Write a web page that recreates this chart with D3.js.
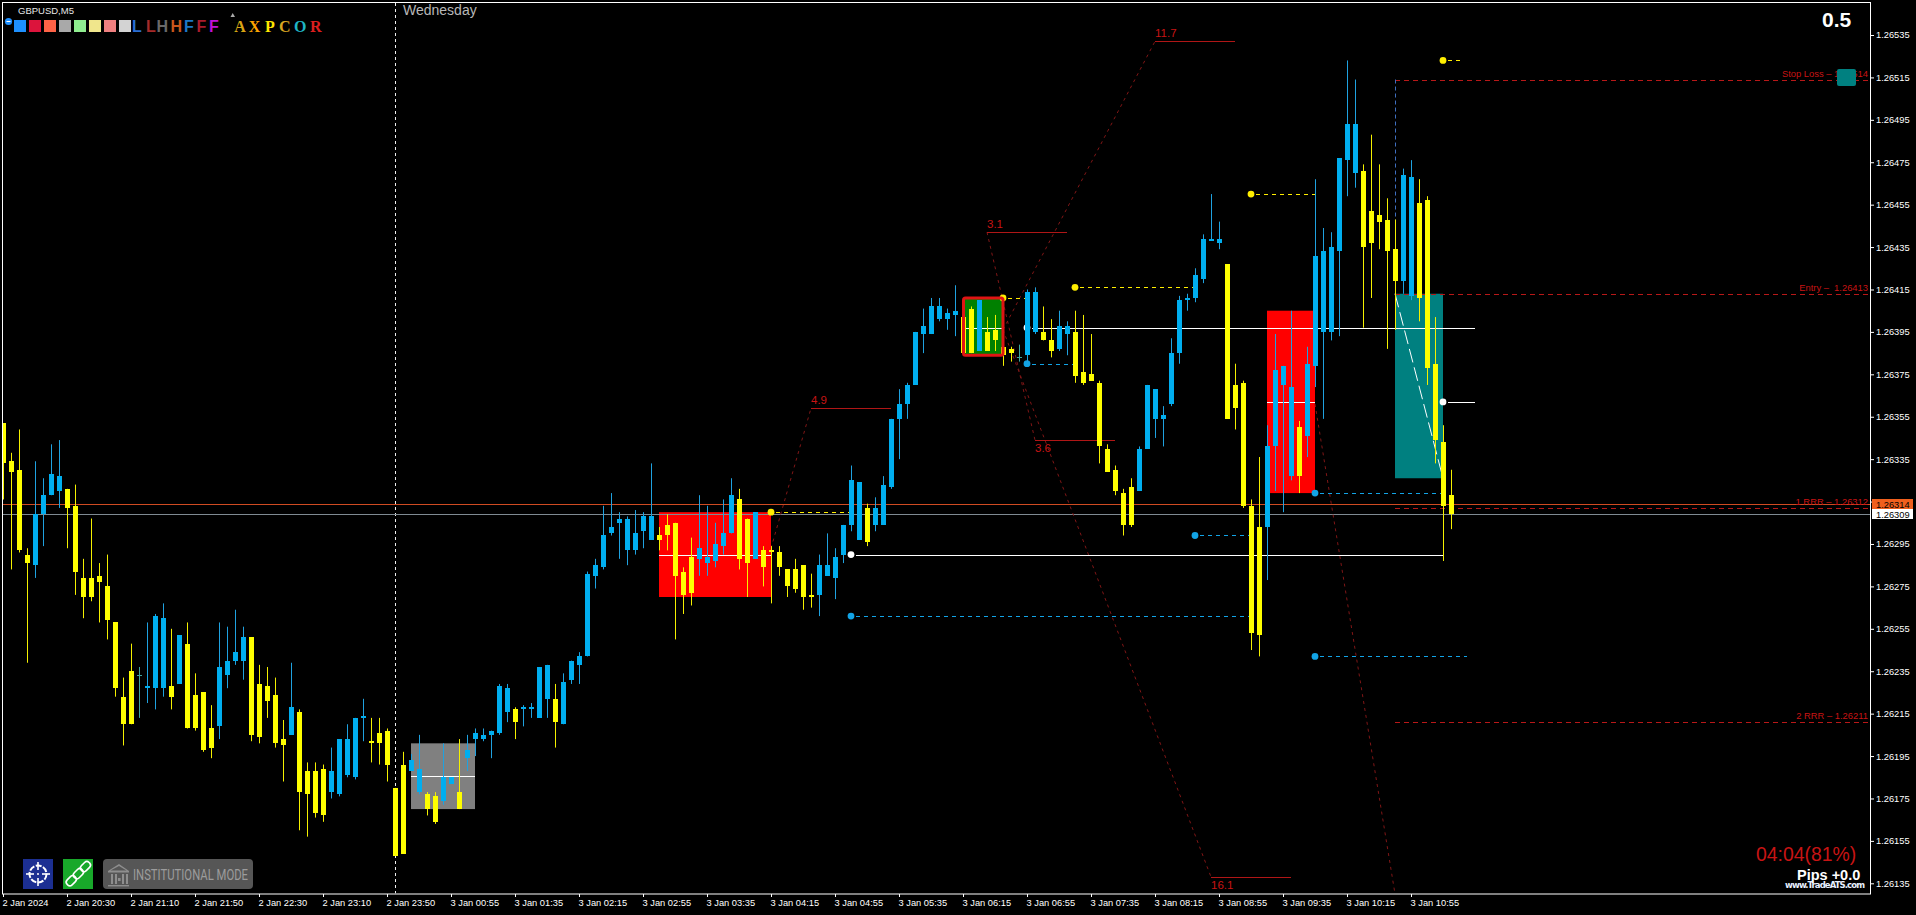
<!DOCTYPE html>
<html><head><meta charset="utf-8">
<script src="https://cdn.jsdelivr.net/npm/d3@7/dist/d3.min.js"></script>
<style>
html,body{margin:0;padding:0;background:#000;overflow:hidden}
svg{display:block}
text{font-family:"Liberation Sans",Arial,sans-serif}
</style></head><body>
<svg id="c" width="1916" height="915"></svg>
<script>
const opens=[1.26352,1.26334,1.26330,1.26290,1.26285,1.26309,1.26318,1.26320,1.26321,1.26313,
1.26279,1.26279,1.26280,1.26275,1.26258,1.26223,1.26235,1.26233,1.26227,1.26227,
1.26227,1.26228,1.26229,1.26248,1.26224,1.26225,1.26208,1.26209,1.26233,1.26240,
1.26240,1.26251,1.26229,1.26228,1.26224,1.26203,1.26205,1.26216,1.26188,1.26188,
1.26189,1.26178,1.26177,1.26186,1.26185,1.26213,1.26202,1.26206,1.26207,1.26180,
1.26191,1.26188,1.26178,1.26177,1.26176,1.26174,1.26182,1.26178,1.26194,1.26203,
1.26203,1.26205,1.26206,1.26216,1.26217,1.26217,1.26217,1.26213,1.26222,1.26222,
1.26210,1.26231,1.26238,1.26242,1.26280,1.26284,1.26300,1.26305,1.26292,1.26292,
1.26301,1.26297,1.26299,1.26304,1.26305,1.26282,1.26289,1.26288,1.26286,1.26287,
1.26294,1.26300,1.26316,1.26307,1.26288,1.26292,1.26292,1.26291,1.26283,1.26283,
1.26285,1.26271,1.26271,1.26280,1.26279,1.26290,1.26304,1.26297,1.26312,1.26304,
1.26304,1.26322,1.26354,1.26361,1.26370,1.26394,1.26394,1.26401,1.26401,1.26403,
1.26402,1.26406,1.26386,1.26395,1.26396,1.26388,1.26387,1.26383,1.26384,1.26395,
1.26395,1.26391,1.26387,1.26394,1.26395,1.26376,1.26375,1.26371,1.26340,1.26330,
1.26319,1.26322,1.26320,1.26340,1.26354,1.26354,1.26361,1.26385,1.26410,1.26411,
1.26420,1.26438,1.26437,1.26427,1.26370,1.26371,1.26313,1.26303,1.26303,1.26341,
1.26370,1.26327,1.26350,1.26346,1.26379,1.26395,1.26395,1.26433,1.26476,1.26470,
1.26471,1.26452,1.26450,1.26448,1.26434,1.26419,1.26412,1.26456,1.26457,1.26380,
1.26343,1.26318];
const highs=[1.26352,1.26338,1.26349,1.26293,1.26334,1.26326,1.26342,1.26344,1.26321,1.26323,
1.26288,1.26307,1.26286,1.26290,1.26258,1.26232,1.26248,1.26237,1.26258,1.26262,
1.26267,1.26255,1.26252,1.26258,1.26234,1.26225,1.26219,1.26258,1.26256,1.26264,
1.26256,1.26251,1.26238,1.26237,1.26232,1.26212,1.26239,1.26217,1.26192,1.26192,
1.26191,1.26199,1.26203,1.26210,1.26213,1.26222,1.26213,1.26213,1.26208,1.26180,
1.26197,1.26196,1.26205,1.26178,1.26178,1.26201,1.26185,1.26203,1.26205,1.26208,
1.26208,1.26207,1.26229,1.26229,1.26218,1.26219,1.26220,1.26237,1.26238,1.26229,
1.26234,1.26240,1.26244,1.26282,1.26288,1.26313,1.26319,1.26310,1.26308,1.26311,
1.26310,1.26333,1.26303,1.26309,1.26305,1.26284,1.26298,1.26318,1.26313,1.26305,
1.26316,1.26326,1.26321,1.26307,1.26310,1.26294,1.26294,1.26294,1.26283,1.26288,
1.26285,1.26281,1.26290,1.26300,1.26293,1.26304,1.26332,1.26324,1.26314,1.26317,
1.26327,1.26354,1.26368,1.26371,1.26395,1.26406,1.26411,1.26411,1.26406,1.26417,
1.26402,1.26407,1.26410,1.26402,1.26403,1.26389,1.26388,1.26389,1.26415,1.26416,
1.26407,1.26401,1.26405,1.26400,1.26405,1.26403,1.26394,1.26372,1.26342,1.26332,
1.26321,1.26326,1.26341,1.26370,1.26368,1.26360,1.26392,1.26412,1.26413,1.26425,
1.26441,1.26460,1.26447,1.26427,1.26380,1.26372,1.26316,1.26336,1.26351,1.26394,
1.26379,1.26405,1.26353,1.26388,1.26467,1.26444,1.26442,1.26477,1.26523,1.26514,
1.26474,1.26488,1.26474,1.26458,1.26448,1.26472,1.26476,1.26467,1.26459,1.26402,
1.26351,1.26330];
const lows=[1.26316,1.26283,1.26291,1.26239,1.26279,1.26294,1.26318,1.26312,1.26293,1.26271,
1.26260,1.26268,1.26258,1.26250,1.26223,1.26200,1.26210,1.26213,1.26220,1.26217,
1.26223,1.26217,1.26229,1.26208,1.26207,1.26197,1.26194,1.26203,1.26227,1.26238,
1.26231,1.26202,1.26201,1.26213,1.26199,1.26183,1.26205,1.26160,1.26157,1.26166,
1.26164,1.26175,1.26176,1.26185,1.26184,1.26202,1.26192,1.26191,1.26183,1.26148,
1.26149,1.26188,1.26177,1.26167,1.26163,1.26172,1.26182,1.26170,1.26188,1.26195,
1.26202,1.26194,1.26205,1.26211,1.26203,1.26209,1.26213,1.26213,1.26213,1.26199,
1.26210,1.26229,1.26229,1.26242,1.26274,1.26283,1.26299,1.26288,1.26285,1.26290,
1.26293,1.26297,1.26292,1.26292,1.26250,1.26262,1.26266,1.26280,1.26280,1.26284,
1.26290,1.26300,1.26283,1.26270,1.26288,1.26275,1.26267,1.26280,1.26270,1.26272,
1.26264,1.26265,1.26261,1.26280,1.26269,1.26286,1.26301,1.26297,1.26294,1.26301,
1.26304,1.26321,1.26335,1.26354,1.26370,1.26385,1.26394,1.26400,1.26396,1.26393,
1.26385,1.26385,1.26386,1.26386,1.26386,1.26379,1.26381,1.26381,1.26380,1.26394,
1.26391,1.26383,1.26386,1.26384,1.26371,1.26370,1.26372,1.26333,1.26329,1.26318,
1.26299,1.26303,1.26320,1.26340,1.26345,1.26341,1.26360,1.26380,1.26405,1.26409,
1.26418,1.26438,1.26434,1.26354,1.26349,1.26312,1.26245,1.26242,1.26278,1.26320,
1.26310,1.26325,1.26319,1.26336,1.26369,1.26354,1.26391,1.26393,1.26459,1.26463,
1.26397,1.26411,1.26434,1.26387,1.26396,1.26413,1.26410,1.26400,1.26370,1.26333,
1.26287,1.26302];
const closes=[1.26333,1.26329,1.26292,1.26286,1.26309,1.26318,1.26328,1.26327,1.26312,1.26282,
1.26270,1.26270,1.26277,1.26259,1.26227,1.26210,1.26210,1.26233,1.26228,1.26261,
1.26260,1.26223,1.26252,1.26208,1.26208,1.26198,1.26199,1.26237,1.26240,1.26244,
1.26251,1.26205,1.26204,1.26221,1.26201,1.26200,1.26218,1.26178,1.26177,1.26168,
1.26167,1.26188,1.26203,1.26203,1.26213,1.26214,1.26201,1.26201,1.26191,1.26148,
1.26149,1.26193,1.26189,1.26170,1.26164,1.26185,1.26185,1.26170,1.26198,1.26206,
1.26205,1.26207,1.26228,1.26227,1.26211,1.26218,1.26218,1.26237,1.26238,1.26211,
1.26230,1.26240,1.26242,1.26281,1.26285,1.26299,1.26303,1.26307,1.26307,1.26300,
1.26308,1.26308,1.26297,1.26299,1.26280,1.26271,1.26272,1.26293,1.26289,1.26295,
1.26300,1.26318,1.26288,1.26286,1.26310,1.26284,1.26291,1.26284,1.26275,1.26274,
1.26270,1.26270,1.26285,1.26285,1.26289,1.26304,1.26325,1.26324,1.26296,1.26312,
1.26323,1.26354,1.26361,1.26370,1.26395,1.26398,1.26407,1.26407,1.26404,1.26405,
1.26385,1.26385,1.26410,1.26386,1.26391,1.26384,1.26385,1.26383,1.26414,1.26414,
1.26391,1.26386,1.26398,1.26398,1.26374,1.26371,1.26372,1.26341,1.26329,1.26320,
1.26304,1.26304,1.26340,1.26370,1.26368,1.26356,1.26385,1.26410,1.26411,1.26422,
1.26439,1.26439,1.26439,1.26354,1.26359,1.26313,1.26253,1.26252,1.26341,1.26377,
1.26379,1.26369,1.26327,1.26380,1.26431,1.26433,1.26435,1.26477,1.26493,1.26493,
1.26435,1.26437,1.26447,1.26433,1.26419,1.26469,1.26468,1.26411,1.26378,1.26344,
1.26313,1.26309];

const priceTicks=[1.26535,1.26515,1.26495,1.26475,1.26455,1.26435,1.26415,1.26395,1.26375,1.26355,1.26335,1.26315,1.26295,1.26275,1.26255,1.26235,1.26215,1.26195,1.26175,1.26155,1.26135];
const timeTickIndex=[0,8,16,24,32,40,48,56,64,72,80,88,96,104,112,120,128,136,144,152,160,168,176];
const timeLabels=["2 Jan 2024","2 Jan 20:30","2 Jan 21:10","2 Jan 21:50","2 Jan 22:30","2 Jan 23:10","2 Jan 23:50","3 Jan 00:55","3 Jan 01:35","3 Jan 02:15","3 Jan 02:55","3 Jan 03:35","3 Jan 04:15","3 Jan 04:55","3 Jan 05:35","3 Jan 06:15","3 Jan 06:55","3 Jan 07:35","3 Jan 08:15","3 Jan 08:55","3 Jan 09:35","3 Jan 10:15","3 Jan 10:55"];

const askPrice=1.26314, bidPrice=1.26309;
const dayBreakIndex=49;

// zones: [from candle, to candle, top price, bottom price, mid price]
const grayZone=[51,59,1.26201,1.26170,1.261855];
const redZones=[[82,96,1.26310,1.26270,1.26290],[158,164,1.26405,1.26319,1.26362]];
const greenZone=[120,125,1.26411,1.26384,1.26397];
const tradeZone=[174,180,1.26413,1.26326];

// trade levels: label, price
const tradeLevelNames=["Stop Loss \u2013 1.26514","Entry \u2013  1.26413","1 RRR \u2013 1.26312","2 RRR \u2013 1.26211"];
const tradeLevelPrices=[1.26514,1.26413,1.26312,1.26211];

// zigzag segments: [from candle, from price, to candle, to price]
const zigzag=[[96,1.26293,101,1.26359],[123,1.26442,129,1.26344],[125,1.26396,151,1.26138],[125,1.26396,144,1.26532],[164,1.26361,174,1.26130]];
// swing labels: text, from candle, to candle, price
const swingText=["4.9","3.1","3.6","11.7","16.1"];
const swingFrom=[101,123,129,144,151];
const swingTo=[111,133,139,154,161];
const swingPrice=[1.26359,1.26442,1.26344,1.26532,1.26138];
const swingBelow=[false,false,true,false,true];

// pivot levels: [from candle, to candle, price]
const yellowLevels=[[96,106,1.26310],[125,128,1.26411],[134,149,1.26416],[156,164,1.26460],[180,182.6,1.26523]];
const whiteLevels=[[128,184,1.26397],[106,180,1.26290],[180,184,1.26362]];
const blueLevels=[[128,134,1.26380],[149,156,1.26299],[164,180,1.26319],[164,183,1.26242],[106,156,1.26261]];

const swatches=["#1e90ff","#dc143c","#ff6347","#a9a9a9","#90ee90","#f0e68c","#f08080","#d3d3d3"];
const letterText=["L","L","H","H","F","F","F"];
const letterX=[132,146,156.5,170.5,184,196.5,209];
const letterCol=["#2a6fd4","#a52a2a","#696969","#c8561c","#1e78c8","#a81c2c","#c012d8"];
const pairText=["A","X","P","C","O","R"];
const pairX=[234.3,248.7,265,279,294,310];
const pairCol=["#d9a514","#ffa500","#ffe600","#d8a520","#1fb4c4","#dc1e1e"];

const BLUE="#00aeef",YEL="#ffff00",DOJI="#3fa7a0",RED="#b01616",RED2="#c81414";
const plotRight=1870, plotBottom=893.5;

const svg=d3.select("#c");
const x=d3.scaleLinear().domain([0,181]).range([3,1451]);
const y=d3.scaleLinear().domain([1.26135,1.26535]).range([883.3,35]);

svg.append("defs").append("clipPath").attr("id","plot").append("rect")
  .attr("x",3).attr("y",3).attr("width",plotRight-3).attr("height",plotBottom-3);
const g=svg.append("g").attr("clip-path","url(#plot)");

function hline(p,x0,x1,col,dash){
  const l=g.append("line").attr("x1",x0).attr("x2",x1).attr("y1",Math.round(y(p))+.5).attr("y2",Math.round(y(p))+.5)
    .attr("stroke",col).attr("stroke-width",1);
  if(dash)l.attr("stroke-dasharray",dash);
  return l;
}
// day break
g.append("line").attr("x1",x(dayBreakIndex)+.5).attr("x2",x(dayBreakIndex)+.5).attr("y1",3).attr("y2",plotBottom)
  .attr("stroke","#f0f0f0").attr("stroke-dasharray","3,3");

function zone(z,fill){
  g.append("rect").attr("x",x(z[0])).attr("width",x(z[1])-x(z[0])).attr("y",y(z[2])).attr("height",y(z[3])-y(z[2])).attr("fill",fill);
}
zone(grayZone,"#808080");
redZones.forEach(z=>zone(z,"#ff0000"));
zone(greenZone,"#008000");
zone(tradeZone,"#008080");

hline(askPrice,3,plotRight,"#cf4b22");
hline(bidPrice,3,plotRight,"#7f8a92");

[grayZone,...redZones,greenZone].forEach(z=>hline(z[4],x(z[0]),x(z[1]),"#ffffff"));

// trade levels
tradeLevelPrices.forEach(p=>hline(p,x(tradeZone[0]),plotRight-2,"#b81818","5,4"));
g.append("line").attr("x1",x(tradeZone[0])+.5).attr("x2",x(tradeZone[0])+.5).attr("y1",y(tradeLevelPrices[0])).attr("y2",y(tradeLevelPrices[1]))
  .attr("stroke","#3f6fc0").attr("stroke-dasharray","4,3");
g.append("line").attr("x1",x(tradeZone[0])).attr("y1",y(tradeZone[2])).attr("x2",x(tradeZone[1])).attr("y2",y(tradeZone[3]))
  .attr("stroke","#ffffff").attr("stroke-dasharray","14,5");

// zigzag
zigzag.forEach(s=>g.append("line").attr("x1",x(s[0])).attr("y1",y(s[1])).attr("x2",x(s[2])).attr("y2",y(s[3]))
  .attr("stroke","#801616").attr("stroke-dasharray","3,4").attr("stroke-width",1));
swingText.forEach((t,i)=>{
  hline(swingPrice[i],x(swingFrom[i]),x(swingTo[i]),RED);
  g.append("text").text(t).attr("x",x(swingFrom[i])).attr("y",y(swingPrice[i])+(swingBelow[i]?12:-4))
    .attr("fill",RED2).attr("font-size",11.5);
});

// pivots
function pivots(list,col,dash){
  list.forEach(l=>{
    hline(l[2],x(l[0])+5,x(l[1]),col,dash);
    g.append("circle").attr("cx",x(l[0])).attr("cy",y(l[2])).attr("r",3.4).attr("fill",col);
  });
}
pivots(yellowLevels,"#ffee00","4,4");
pivots(blueLevels,"#12a4e6","4,4");
pivots(whiteLevels,"#ffffff",null);

// candles
const idx=d3.range(opens.length);
const col=i=>closes[i]===opens[i]?DOJI:(closes[i]>opens[i]?BLUE:YEL);
g.append("g").selectAll("rect").data(idx).join("rect")
  .attr("x",i=>x(i)).attr("width",1).attr("y",i=>y(highs[i])).attr("height",i=>y(lows[i])-y(highs[i]))
  .attr("fill",i=>closes[i]===opens[i]?DOJI:(closes[i]>opens[i]?"#1fa2e0":"#f4f000"));
g.append("g").selectAll("rect").data(idx).join("rect")
  .attr("x",i=>x(i)-2).attr("width",5).attr("y",i=>y(Math.max(opens[i],closes[i])))
  .attr("height",i=>Math.max(1,y(Math.min(opens[i],closes[i]))-y(Math.max(opens[i],closes[i]))))
  .attr("fill",col).attr("shape-rendering","crispEdges");

// green zone border sits above candles
g.append("rect").attr("x",x(greenZone[0])+.5).attr("width",x(greenZone[1])-x(greenZone[0])-.5)
  .attr("y",y(greenZone[2])).attr("height",y(greenZone[3])-y(greenZone[2]))
  .attr("fill","none").attr("stroke","#e01414").attr("stroke-width",3).attr("rx",2);

// frame
svg.append("rect").attr("x",2.5).attr("y",2.5).attr("width",1868).attr("height",891.5).attr("fill","none").attr("stroke","#fff").attr("stroke-width",1);

// axes
const yAxis=d3.axisRight(y).tickValues(priceTicks).tickFormat(d3.format(".5f")).tickSize(3).tickPadding(2);
const ya=svg.append("g").attr("transform","translate(1871,0)").call(yAxis);
const xAxis=d3.axisBottom(x).tickValues(timeTickIndex).tickFormat((d,i)=>timeLabels[i]).tickSize(3).tickPadding(2);
const xa=svg.append("g").attr("transform","translate(0,894)").call(xAxis);
[ya,xa].forEach(a=>{
  a.select(".domain").remove();
  a.selectAll("line").attr("stroke","#fff");
  a.selectAll("text").attr("fill","#fff").attr("font-size",9.3).attr("font-family","Liberation Sans");
});
xa.selectAll("text").attr("text-anchor","start").attr("dx",-1);

// price tags
function tag(p,bg){
  const yy=Math.round(y(p));
  const t=svg.append("g");
  t.append("rect").attr("x",1872).attr("y",yy-5).attr("width",41).attr("height",10).attr("fill",bg);
  t.append("text").text(d3.format(".5f")(p)).attr("x",1876).attr("y",yy+3.5).attr("fill","#000").attr("font-size",9.3);
}
tag(askPrice,"#f0601e");
tag(bidPrice,"#ffffff");

// trade level labels
tradeLevelNames.forEach((t,i)=>svg.append("text").text(t).attr("text-anchor","end").attr("x",1868)
  .attr("y",y(tradeLevelPrices[i])-3).attr("fill",RED2).attr("font-size",9.4).style("white-space","pre"));
svg.append("rect").attr("x",1837).attr("y",69).attr("width",19).attr("height",17).attr("rx",2).attr("fill","#008080");

// top-left
svg.append("text").text("GBPUSD,M5").attr("x",18).attr("y",14).attr("fill","#e8e8e8").attr("font-size",9.5);
svg.append("circle").attr("cx",8.5).attr("cy",21.5).attr("r",3.6).attr("fill","#1e90ff");
svg.append("rect").attr("x",6.5).attr("y",21).attr("width",4).attr("height",1).attr("fill","#fff");
swatches.forEach((c,i)=>svg.append("rect").attr("x",14+15*i).attr("y",20).attr("width",12).attr("height",12).attr("fill",c));
letterText.forEach((t,i)=>svg.append("text").text(t).attr("x",letterX[i]).attr("y",32).attr("fill",letterCol[i]).attr("font-size",16).attr("font-weight","bold"));
svg.append("path").attr("d","M230.5 17 L232.7 13 L235 17 Z").attr("fill","#aaa");
pairText.forEach((t,i)=>svg.append("text").text(t).attr("x",pairX[i]).attr("y",31.5).attr("fill",pairCol[i]).attr("font-size",16).attr("font-weight","bold").style("font-family","Liberation Serif"));
svg.append("text").text("Wednesday").attr("x",403).attr("y",15).attr("fill","#b8b8b8").attr("font-size",14);

// top-right + bottom-right read-outs
svg.append("text").text("0.5").attr("x",1822).attr("y",27).attr("fill","#fff").attr("font-size",21).attr("font-weight","bold");
svg.append("text").text("04:04(81%)").attr("x",1756).attr("y",861).attr("fill","#c81414").attr("font-size",19.4);
svg.append("text").text("Pips +0.0").attr("x",1797).attr("y",880).attr("fill","#fff").attr("font-size",14.5).attr("font-weight","bold");
svg.append("text").text("www.TradeATS.com").attr("x",1785).attr("y",888).attr("fill","#e8f0ff").attr("font-size",8.5).attr("font-weight","bold")
  .attr("textLength",80).attr("lengthAdjust","spacing").style("font-family","DejaVu Sans");

// bottom-left buttons
svg.append("rect").attr("x",23).attr("y",859).attr("width",30).attr("height",30).attr("fill","#1c2f92");
const cross=svg.append("g").attr("stroke","#fff").attr("fill","none").attr("transform","translate(38,874)");
cross.append("circle").attr("r",8.5).attr("stroke-width",2).attr("stroke-dasharray","6,1.5");
[[-12,0,-4,0],[4,0,12,0],[0,-12,0,-4],[0,4,0,12]].forEach(d=>cross.append("line").attr("x1",d[0]).attr("y1",d[1]).attr("x2",d[2]).attr("y2",d[3]).attr("stroke-width",1.6));
cross.append("circle").attr("r",1).attr("fill","#fff").attr("stroke","none");
svg.append("rect").attr("x",63).attr("y",859).attr("width",30).attr("height",30).attr("fill","#18a82a");
const chain=svg.append("g").attr("transform","translate(78,874) rotate(-45)").attr("fill","none").attr("stroke","#fff").attr("stroke-width",1.6);
[[-15,-3.5,11,7],[-5,-3.5,11,7],[5,-3.5,11,7]].forEach(d=>chain.append("rect").attr("x",d[0]).attr("y",d[1]).attr("width",d[2]).attr("height",d[3]).attr("rx",3.2));
svg.append("rect").attr("x",103).attr("y",859).attr("width",150).attr("height",30).attr("rx",4).attr("fill","#565656");
const bank=svg.append("g").attr("fill","#8e8e8e");
bank.append("path").attr("d","M108 871 L119 864 L129 871 L129 872.5 L108 872.5 Z M110.5 870.5 L119 866 L126.5 870.5 Z").attr("fill-rule","evenodd");
[111,115,122,126].forEach(v=>bank.append("rect").attr("x",v).attr("y",874).attr("width",2).attr("height",10));
bank.append("rect").attr("x",118).attr("y",878).attr("width",2.6).attr("height",3);
bank.append("rect").attr("x",108).attr("y",885).attr("width",21).attr("height",1.4);
svg.append("text").text("INSTITUTIONAL MODE").attr("x",133).attr("y",880).attr("fill","#9c9c9c").attr("font-size",15.5)
  .attr("textLength",115).attr("lengthAdjust","spacingAndGlyphs").style("font-family","Roboto");
</script>
</body></html>
